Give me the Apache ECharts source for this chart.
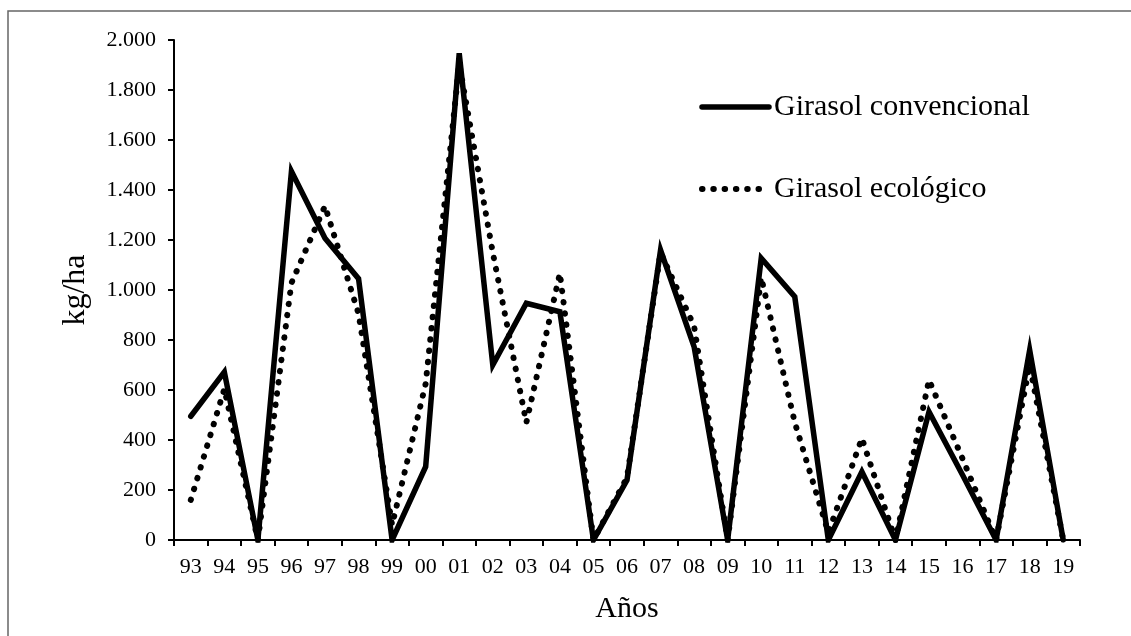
<!DOCTYPE html>
<html>
<head>
<meta charset="utf-8">
<script src="https://cdn.jsdelivr.net/npm/echarts@6/dist/echarts.min.js"></script>
<style>
    html, body{
        margin:0;
        padding:0;
        background:#fff;
    }
    #chart{
        width:1131px;
        height:636px;
    }
</style>
</head>
<body>
<div id="chart"></div>
<script>
const years = ['93','94','95','96','97','98','99','00','01','02','03','04','05','06','07','08','09','10','11','12','13','14','15','16','17','18','19']
const convencional = [495, 672, 0, 1475, 1207, 1045, 0, 293, 1947, 700, 947, 913, 0, 240, 1160, 773, 0, 1127, 973, 0, 273, 0, 513, 260, 0, 760, 0]
const ecologico = [160, 604, 0, 1028, 1336, 905, 60, 625, 1905, 1150, 469, 1067, 0, 250, 1150, 855, 0, 1050, 470, 30, 407, 0, 640, 325, 0, 700, 0]
const seriesNames = ['Girasol convencional', 'Girasol ecológico']

const font = '"Liberation Serif", "DejaVu Serif", serif'
const dotted = {color:'#000', width:6, type:[0.5, 10.8], cap:'round', join:'round'}
const solid = {color:'#000', width:5.5, type:'solid', cap:'round', join:'miter'}
const noSymbol = {color:'rgba(0,0,0,0)', borderWidth:0, opacity:0}

// miles con punto: 2.000, 1.800 ...
function fmt(v){
    if(v >= 1000){
        return Math.floor(v / 1000) + '.' + String(v % 1000).padStart(3, '0')
    }
    return String(v)
}

const chart = echarts.init(document.getElementById('chart'))
const option = {
    animation:false,
    backgroundColor:'#fff',
    graphic:[
        {
            type:'rect',
            shape:{x:8, y:11, width:1140, height:660},
            style:{fill:'none', stroke:'#666', lineWidth:1.5},
            silent:true
        }
    ],
    grid:{left:174, right:51, top:40, bottom:96},
    legend:{
        orient:'vertical',
        left:699,
        top:92,
        padding:0,
        itemWidth:67,
        itemHeight:14,
        itemGap:52,
        textStyle:{fontFamily:font, fontSize:30, color:'#000'},
        data:[
            {name:seriesNames[0], lineStyle:solid, itemStyle:noSymbol},
            {name:seriesNames[1], lineStyle:dotted, itemStyle:noSymbol}
        ]
    },
    xAxis:{
        type:'category',
        data:years,
        boundaryGap:true,
        name:'Años',
        nameLocation:'middle',
        nameGap:54,
        nameTextStyle:{fontFamily:font, fontSize:30, color:'#000'},
        axisLine:{lineStyle:{color:'#000', width:2}},
        axisTick:{show:true, length:6, lineStyle:{color:'#000', width:2}},
        axisLabel:{interval:0, margin:16, fontFamily:font, fontSize:22, color:'#000'},
        splitLine:{show:false}
    },
    yAxis:{
        type:'value',
        min:0,
        max:2000,
        interval:200,
        name:'kg/ha',
        nameLocation:'middle',
        nameGap:82,
        nameTextStyle:{fontFamily:font, fontSize:32, color:'#000'},
        axisLine:{show:true, lineStyle:{color:'#000', width:2}},
        axisTick:{show:true, length:6, lineStyle:{color:'#000', width:2}},
        axisLabel:{margin:18, fontFamily:font, fontSize:22, color:'#000', formatter:fmt},
        splitLine:{show:false}
    },
    series:[
        {
            name:seriesNames[0],
            type:'line',
            data:convencional,
            symbol:'none',
            itemStyle:{color:'#000'},
            lineStyle:solid,
            z:3
        },
        {
            name:seriesNames[1],
            type:'line',
            data:ecologico,
            symbol:'none',
            itemStyle:{color:'#000'},
            lineStyle:dotted,
            z:2
        }
    ]
}
chart.setOption(option)
</script>
</body>
</html>
